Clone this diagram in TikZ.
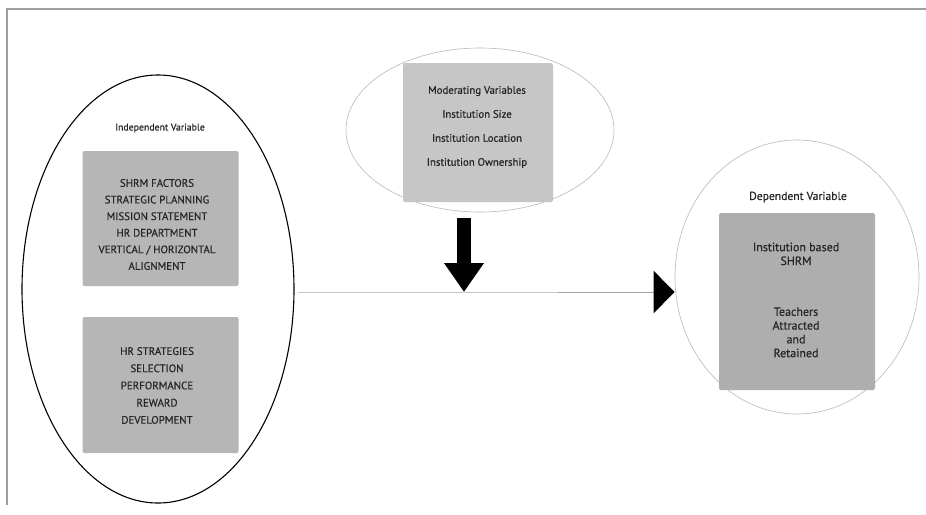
\documentclass[tikz,border=0pt]{standalone}
\usepackage{fontspec}
\setmainfont{PT Sans}
\newfontfamily\scanfont{PT Sans}[FakeBold=0.5]
\usetikzlibrary{arrows.meta,shapes.geometric}
\definecolor{boxgray}{HTML}{B6B6B6}
\definecolor{modgray}{HTML}{C6C6C6}
\definecolor{depgray}{HTML}{AEAEAE}
\definecolor{txt}{HTML}{262626}
\tikzset{
  x=1pt,y=-1pt,
  greybox/.style={draw=none,fill=boxgray,rounded corners=2pt,inner sep=0pt},
  boxtext/.style={text=txt,align=center,inner sep=0pt},
  lbltext/.style={text=txt,inner sep=0pt},
  ring/.style={ellipse,inner sep=0pt},
  frameline/.style={draw=gray!75,line width=1.4pt},
  bigarrow/.style={line width=14pt,-{Triangle[length=29pt,width=38pt]}},
  flowline/.style={draw=gray!70,line width=0.7pt,-{Triangle[length=21pt,width=42pt,color=black,fill=black]}}
}
\begin{document}
\begin{tikzpicture}
\useasboundingbox (0,0) rectangle (926,514);
\fill[white] (0,0) rectangle (926,514);
% frame
\coordinate (ftl) at (7,9);
\coordinate (ftr) at (926,9);
\coordinate (fbl) at (7,505);
\draw[frameline] (ftr) -- (ftl) -- (fbl);

% independent ellipse
\node[ring,draw=black,line width=1.1pt,minimum width=272pt,minimum height=428pt] (indep) at (158,289) {};
\node[lbltext,font=\scanfont\fontsize{9.8}{11}\selectfont] (indeplbl) at (160,128) {Independent Variable};
\node[greybox,minimum width=156pt,minimum height=135pt] (box1) at (160.5,218.5) {};
\node[boxtext,font=\scanfont\fontsize{10.9}{16.6}\selectfont] (box1t) at (157,224.5)
 {SHRM FACTORS\\STRATEGIC PLANNING\\MISSION STATEMENT\\HR DEPARTMENT\\VERTICAL / HORIZONTAL\\ALIGNMENT};
\node[greybox,minimum width=156pt,minimum height=136pt] (box2) at (160.5,385) {};
\node[boxtext,font=\scanfont\fontsize{10.9}{17.2}\selectfont] (box2t) at (157,385.5)
 {HR STRATEGIES\\SELECTION\\PERFORMANCE\\REWARD\\DEVELOPMENT};

% moderating ellipse
\node[ring,draw=gray!55,line width=0.6pt,minimum width=268pt,minimum height=164pt] (mod) at (480,130) {};
\node[greybox,fill=modgray,minimum width=150pt,minimum height=139pt] (modbox) at (478,132.5) {};
\node[boxtext,font=\scanfont\fontsize{10.8}{24}\selectfont] (modt) at (477,127)
 {Moderating Variables\\Institution Size\\Institution Location\\Institution Ownership};

% dependent ellipse
\node[ring,draw=gray!55,line width=0.6pt,minimum width=244pt,minimum height=274pt] (dep) at (797,277) {};
\node[lbltext,font=\scanfont\fontsize{11.6}{13}\selectfont] (deplbl) at (798,197) {Dependent Variable};
\node[greybox,fill=depgray,minimum width=156pt,minimum height=177pt] (depbox) at (797,301.5) {};
\node[boxtext,font=\scanfont\fontsize{12}{13.8}\selectfont] (dept) at (796,300)
 {Institution based\\SHRM\\[37pt]Teachers\\Attracted\\and\\Retained};

% connectors
\coordinate (join) at (464,292);
\coordinate (lstart) at (298,292);
\coordinate (arrtop) at (464,218);
\draw[flowline] (lstart) -- (join) -- (dep.west |- join);
\draw[bigarrow] (arrtop) -- (join);
\end{tikzpicture}
\end{document}
